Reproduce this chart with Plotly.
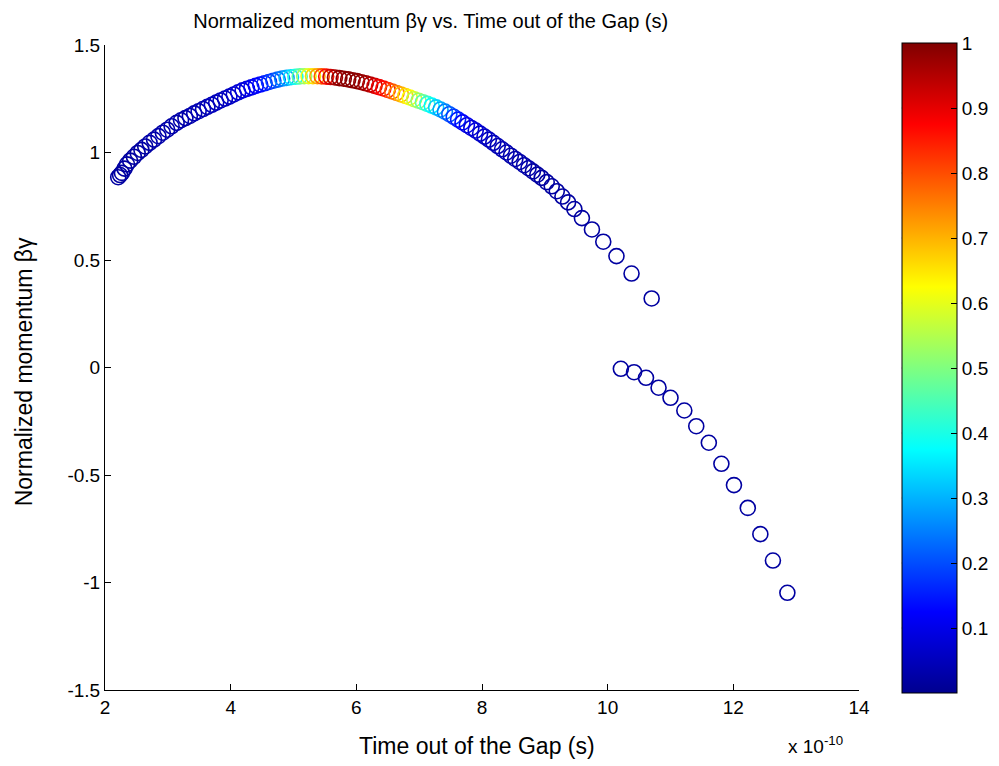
import plotly.graph_objects as go

# ---- data (time in units of 1e-10 s) ----
time_upper = [2.21, 2.24, 2.27, 2.31, 2.35, 2.40, 2.46, 2.52, 2.58, 2.64, 2.71, 2.78, 2.85, 2.92, 2.99,
              3.06, 3.14, 3.21, 3.28, 3.35, 3.42, 3.49, 3.56, 3.63, 3.70, 3.77, 3.84, 3.91, 3.98, 4.05,
              4.12, 4.19, 4.26, 4.33, 4.40, 4.47, 4.54, 4.61, 4.68, 4.75, 4.82, 4.89, 4.96, 5.03, 5.10,
              5.17, 5.24, 5.31, 5.38, 5.45, 5.52, 5.59, 5.66, 5.73, 5.80, 5.87, 5.94, 6.01, 6.08, 6.15,
              6.22, 6.29, 6.36, 6.43, 6.50, 6.57, 6.64, 6.71, 6.78, 6.85, 6.92, 6.99, 7.06, 7.13, 7.20,
              7.27, 7.34, 7.41, 7.48, 7.55, 7.62, 7.69, 7.76, 7.83, 7.90, 7.97, 8.04, 8.11, 8.18, 8.25,
              8.32, 8.39, 8.46, 8.53, 8.60, 8.67, 8.74, 8.81, 8.88, 8.95, 9.03, 9.11, 9.19, 9.28, 9.37,
              9.47, 9.59, 9.75, 9.93, 10.14, 10.38, 10.70]
momentum_upper = [0.885, 0.895, 0.905, 0.925, 0.945, 0.962, 0.980, 0.998, 1.012, 1.028, 1.045, 1.060, 1.076, 1.092, 1.106,
                  1.122, 1.138, 1.150, 1.160, 1.170, 1.182, 1.192, 1.202, 1.212, 1.222, 1.232, 1.242, 1.251, 1.260, 1.270,
                  1.280, 1.289, 1.296, 1.303, 1.310, 1.316, 1.322, 1.328, 1.334, 1.339, 1.344, 1.347, 1.350, 1.352, 1.354,
                  1.355, 1.355, 1.355, 1.355, 1.354, 1.353, 1.351, 1.349, 1.346, 1.343, 1.340, 1.336, 1.332, 1.327, 1.322,
                  1.316, 1.310, 1.304, 1.298, 1.291, 1.284, 1.277, 1.270, 1.263, 1.256, 1.248, 1.241, 1.234, 1.226, 1.218,
                  1.210, 1.200, 1.190, 1.178, 1.166, 1.153, 1.140, 1.127, 1.114, 1.102, 1.088, 1.074, 1.060, 1.045, 1.030,
                  1.015, 1.000, 0.985, 0.970, 0.956, 0.941, 0.927, 0.912, 0.897, 0.882, 0.862, 0.843, 0.820, 0.795, 0.768,
                  0.737, 0.695, 0.642, 0.585, 0.518, 0.437, 0.321]
color_upper = [0.02, 0.02, 0.02, 0.02, 0.02, 0.02, 0.02, 0.02, 0.02, 0.02, 0.03, 0.03, 0.03, 0.03, 0.03,
               0.03, 0.03, 0.03, 0.03, 0.03, 0.04, 0.04, 0.04, 0.04, 0.05, 0.05, 0.05, 0.05, 0.06, 0.06,
               0.08, 0.08, 0.09, 0.10, 0.12, 0.13, 0.15, 0.17, 0.19, 0.22, 0.25, 0.29, 0.34, 0.40, 0.46,
               0.53, 0.60, 0.66, 0.72, 0.79, 0.86, 0.92, 0.96, 0.99, 0.99, 0.99, 0.99, 0.99, 0.98, 0.97,
               0.95, 0.92, 0.89, 0.87, 0.84, 0.79, 0.75, 0.70, 0.66, 0.62, 0.57, 0.52, 0.47, 0.42, 0.37,
               0.33, 0.29, 0.25, 0.21, 0.18, 0.15, 0.12, 0.10, 0.08, 0.08, 0.07, 0.06, 0.05, 0.05, 0.04,
               0.04, 0.04, 0.03, 0.03, 0.03, 0.03, 0.03, 0.02, 0.02, 0.02, 0.02, 0.02, 0.02, 0.02, 0.02,
               0.02, 0.02, 0.02, 0.02, 0.02, 0.02, 0.02]
time_lower = [10.21, 10.42, 10.61, 10.81, 11.00, 11.22, 11.41, 11.61, 11.81, 12.01, 12.23, 12.43, 12.63, 12.86]
momentum_lower = [-0.006, -0.022, -0.048, -0.094, -0.141, -0.200, -0.273, -0.350, -0.448, -0.547, -0.653, -0.775,
                  -0.898, -1.048]
color_lower = [0.02] * len(time_lower)

x_ticks = [2, 4, 6, 8, 10, 12, 14]
y_ticks = [-1.5, -1, -0.5, 0, 0.5, 1, 1.5]
y_tick_text = ["-1.5", "-1", "-0.5", "0", "0.5", "1", "1.5"]
cb_ticks = [0.1, 0.2, 0.3, 0.4, 0.5, 0.6, 0.7, 0.8, 0.9, 1.0]
cb_tick_text = ["0.1", "0.2", "0.3", "0.4", "0.5", "0.6", "0.7", "0.8", "0.9", "1"]

# MATLAB jet
jet = [[0.0, "rgb(0,0,143)"], [0.125, "rgb(0,0,255)"], [0.375, "rgb(0,255,255)"],
       [0.625, "rgb(255,255,0)"], [0.875, "rgb(255,0,0)"], [1.0, "rgb(128,0,0)"]]

FONT = "Liberation Sans"

fig = go.Figure()
fig.add_trace(go.Scatter(
    x=time_upper + time_lower,
    y=momentum_upper + momentum_lower,
    mode="markers",
    marker=dict(symbol="circle-open", size=15, color=color_upper + color_lower,
                coloraxis="coloraxis", line=dict(width=1.6)),
    showlegend=False,
))

OFF = 8  # page body margin offset
W, H = 999, 766
PL, PR, PT, PB = 105 - OFF, 862 - OFF, 45 - OFF, 690 - OFF   # plot box in figure px
L, R, T, B = PL, W - PR, PT, H - PB
plot_w = PR - PL
plot_h = PB - PT


def px_x(xp):
    return (xp - OFF - PL) / plot_w


def px_y(yp):
    return (PB - (yp - OFF)) / plot_h


cb_x = px_x(905)

fig.update_layout(
    width=W, height=H,
    margin=dict(l=L, r=R, t=T, b=B),
    paper_bgcolor="white", plot_bgcolor="white",
    font=dict(family=FONT, size=19, color="black"),
    title=dict(text="Normalized momentum βγ vs. Time out of the Gap (s)",
               x=px_x(432), xref="paper", xanchor="center",
               y=1 - 6 / H, yref="container", yanchor="top",
               font=dict(family=FONT, size=20, color="black")),
    coloraxis=dict(
        colorscale=jet, cmin=0, cmax=1,
        colorbar=dict(
            x=cb_x, xanchor="left", xpad=0, ypad=0,
            y=px_y(368), yanchor="middle", len=650, lenmode="pixels",
            thickness=55, outlinewidth=1, outlinecolor="black",
            ticks="inside", ticklen=6, tickcolor="black",
            tickvals=cb_ticks, ticktext=cb_tick_text,
            tickfont=dict(family=FONT, size=19, color="black"),
        ),
    ),
    xaxis=dict(range=[2, 14], tickvals=x_ticks, ticktext=[str(v) for v in x_ticks],
               ticks="inside", ticklen=6, tickcolor="black", showline=True, linecolor="black",
               linewidth=1, showgrid=False, zeroline=False, mirror=False,
               tickfont=dict(family=FONT, size=19)),
    yaxis=dict(range=[-1.5, 1.5], tickvals=y_ticks, ticktext=y_tick_text,
               ticks="inside", ticklen=6, tickcolor="black", showline=True, linecolor="black",
               linewidth=1, showgrid=False, zeroline=False, mirror=False,
               tickfont=dict(family=FONT, size=19)),
)

# axis titles and exponent label as annotations
fig.add_annotation(text="Time out of the Gap (s)", xref="paper", yref="paper",
                   x=px_x(478), y=px_y(746),
                   xanchor="center", yanchor="middle", showarrow=False,
                   font=dict(family=FONT, size=23, color="black"))
fig.add_annotation(text="Normalized momentum βγ", xref="paper", yref="paper",
                   x=px_x(24), y=px_y(372), textangle=-90,
                   xanchor="center", yanchor="middle", showarrow=False,
                   font=dict(family=FONT, size=23, color="black"))
fig.add_annotation(text="x 10<sup>-10</sup>", xref="paper", yref="paper",
                   x=px_x(818), y=px_y(745),
                   xanchor="center", yanchor="middle", showarrow=False,
                   font=dict(family=FONT, size=19, color="black"))

# left-side colorbar ticks (MATLAB style)
cb_top_px, cb_bot_px = 43, 693
for v in cb_ticks[:-1]:
    ypx = cb_bot_px - v * (cb_bot_px - cb_top_px)
    yp = px_y(ypx)
    fig.add_shape(type="line", xref="paper", yref="paper",
                  x0=cb_x, x1=cb_x + 6 / plot_w, y0=yp, y1=yp,
                  line=dict(color="black", width=1))

fig.write_html("out.html")
